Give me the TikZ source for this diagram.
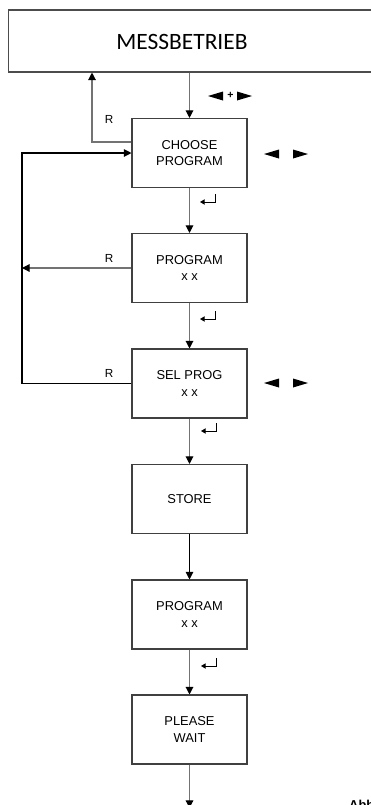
\documentclass[tikz,border=0pt]{standalone}
\usepackage{fontspec}
\setmainfont{Liberation Sans}
\newfontfamily\calib{Carlito}
\usetikzlibrary{arrows.meta}
\tikzset{
  enterkey/.pic={\draw[line width=0.8pt,-{Triangle[width=4.5pt,length=4pt]}] (0,0) -- (0,8) -- (-15,8);},
  lefttri/.pic={\fill (0,0) -- (15,-4.5) -- (15,4.5) -- cycle;},
  righttri/.pic={\fill (0,0) -- (-15,-4.5) -- (-15,4.5) -- cycle;}
}
\begin{document}
\begin{tikzpicture}[x=0.03cm,y=-0.03cm,
  box/.style={draw=black!75,line width=0.9pt,minimum width=3.45cm,minimum height=2.07cm,
              align=center,font=\fontsize{11}{13.8}\selectfont,inner sep=0pt},
  tip/.style={-{Triangle[width=6.5pt,length=6.5pt,color=black]}},
  conn/.style={draw=black!55,line width=1pt,tip},
  connb/.style={draw=black,line width=0.9pt,tip},
  rlab/.style={font=\fontsize{10}{12}\selectfont,inner sep=0pt}
]
\useasboundingbox (0,0) rectangle (371,805);
\clip (0,0) rectangle (371,805);
\fill[white] (0,0) rectangle (371,805);

% top box
\node[draw=black!70,line width=0.9pt,minimum width=11.6cm,minimum height=1.86cm,anchor=west,inner sep=0pt] (mess) at (8,41) {};
\node[font=\calib\fontsize{20}{24}\selectfont,inner sep=0pt] (messtxt) at (182,42) {MESSBETRIEB};

% boxes
\node[box] (choose) at (189.5,153) {CHOOSE\\PROGRAM};
\node[box] (prog1) at (189.5,268) {PROGRAM\\x x};
\node[box] (sel) at (189.5,383.5) {SEL PROG\\x x};
\node[box] (store) at (189.5,499) {STORE};
\node[box] (prog2) at (189.5,614.5) {PROGRAM\\x x};
\node[box] (wait) at (189.5,729.5) {PLEASE\\WAIT};

% coordinates
\coordinate (rup) at (92,0);
\coordinate (lx) at (22,0);
\coordinate (bottom) at (189.5,808);

% vertical connectors
\draw[conn] (mess.south -| choose.north) -- (choose.north);
\draw[conn] (choose) -- (prog1);
\draw[conn] (prog1) -- (sel);
\draw[conn] (sel) -- (store);
\draw[connb] (store) -- (prog2);
\draw[conn] (prog2) -- (wait);
\draw[conn] (wait.south) -- (bottom);

% R connectors
\draw[conn] ([yshift=0.33cm]choose.west) -| (rup |- mess.south);
\draw[conn] (prog1.west) -- (lx |- prog1.west);
\draw[connb] (sel.west) -| (lx |- choose.west) -- (choose.west);

\node[rlab] (r1) at (109,119) {R};
\node[rlab] (r2) at (109,258) {R};
\node[rlab] (r3) at (109,373) {R};

% enter keys
\pic at (215,194) {enterkey};
\pic at (215,311) {enterkey};
\pic at (216,423) {enterkey};
\pic at (216,658) {enterkey};

% arrow keys
\pic at (208,96) {lefttri};
\node[font=\bfseries\fontsize{9}{10}\selectfont,inner sep=0pt] (plus) at (230.5,95.5) {+};
\pic at (252,96) {righttri};
\pic at (264,154) {lefttri};
\pic at (308,154) {righttri};
\pic at (264,383) {lefttri};
\pic at (308,383) {righttri};

% cut-off caption
\node[font=\bfseries\fontsize{11}{13}\selectfont,inner sep=0pt,anchor=base west] (cap) at (349,809.5) {Abb.};
\end{tikzpicture}
\end{document}
